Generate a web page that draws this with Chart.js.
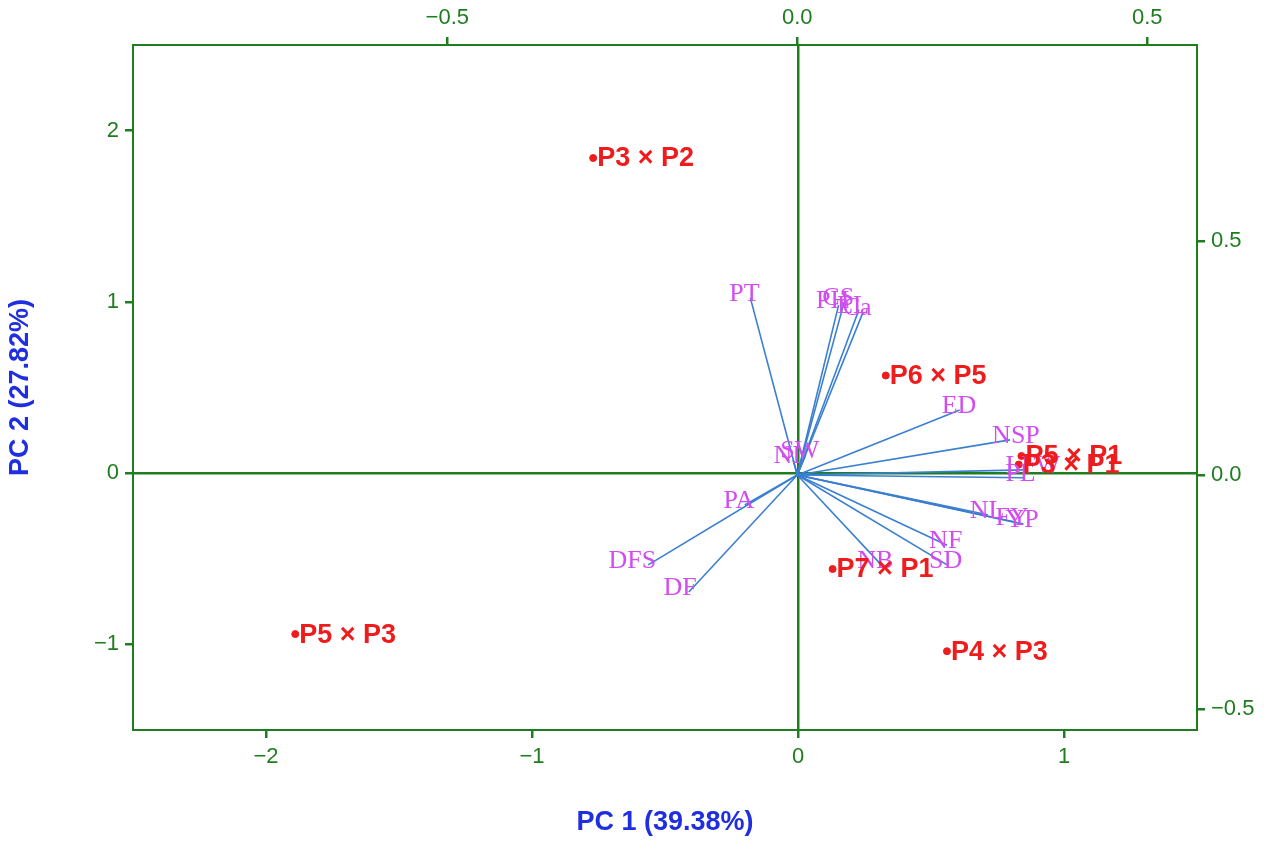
<!DOCTYPE html>
<html>
<head>
<meta charset="UTF-8">
<script src="https://cdn.jsdelivr.net/npm/chart.js"></script>
<style>body{margin:0;background:#fff}#wrap{width:1280px;height:843px}</style>
</head>
<body>
<div id="wrap"><canvas id="biplot"></canvas></div>
<script>
// scores (PC1, PC2)
const scoreNames = ['P3 × P2', 'P6 × P5', 'P5 × P1', 'P3 × P1', 'P7 × P1', 'P4 × P3', 'P5 × P3'];
const scoreX = [-0.77, 0.33, 0.84, 0.83, 0.13, 0.56, -1.89];
const scoreY = [1.84, 0.57, 0.10, 0.05, -0.56, -1.04, -0.94];

// loadings (secondary axes)
const loadNames = ['PT', 'CS', 'PH', 'EL', 'Ca', 'NI', 'SW', 'ED', 'NSP', 'LFW', 'PL', 'NL', 'FY', 'YP', 'NF', 'SD', 'NB', 'PA', 'DFS', 'DF'];
const loadX = [-0.067, 0.067, 0.059, 0.088, 0.094, -0.006, 0.012, 0.232, 0.304, 0.323, 0.323, 0.272, 0.309, 0.323, 0.214, 0.214, 0.120, -0.075, -0.213, -0.155];
const loadY = [0.378, 0.370, 0.363, 0.353, 0.348, 0.032, 0.043, 0.139, 0.075, 0.011, -0.006, -0.085, -0.100, -0.105, -0.150, -0.192, -0.192, -0.064, -0.192, -0.250];

const bottomTicks = [-2, -1, 0, 1];
const leftTicks = [-1, 0, 1, 2];
const topTicks = [-0.5, 0, 0.5];
const rightTicks = [-0.5, 0, 0.5];

const green = '#1e7d1e';
const fmt = v => (v < 0 ? '\u2212' : '') + Math.abs(v);
const fmt1 = v => (v < 0 ? '\u2212' : '') + Math.abs(v).toFixed(1);

const vectorSets = loadNames.map((n, i) => ({
  type: 'line', xAxisID: 'x2', yAxisID: 'y2',
  data: [{x: 0, y: 0}, {x: loadX[i], y: loadY[i]}],
  borderColor: '#3a7fd0', borderWidth: 1.6, pointRadius: 0, fill: false
}));

const labelPlugin = {
  id: 'labels',
  afterDatasetsDraw(chart) {
    const c = chart.ctx, s = chart.scales;
    c.save();
    c.font = '26px "Liberation Serif", "DejaVu Serif", serif';
    c.fillStyle = '#d24df0';
    c.textBaseline = 'middle';
    loadNames.forEach((n, i) => {
      const px = s.x2.getPixelForValue(loadX[i]), py = s.y2.getPixelForValue(loadY[i]);
      c.textAlign = loadX[i] < -0.1 ? 'right' : (loadX[i] > 0.15 ? 'left' : 'center');
      const dx = loadX[i] < -0.1 ? 8 : (loadX[i] > 0.15 ? -18 : -6);
      c.fillText(n, px + dx, py - 4);
    });
    c.font = 'bold 27px "Liberation Sans", Arial, sans-serif';
    c.fillStyle = '#ee1c1c';
    c.textAlign = 'left';
    scoreNames.forEach((n, i) => {
      const px = s.x.getPixelForValue(scoreX[i]), py = s.y.getPixelForValue(scoreY[i]);
      c.fillText(n, px + 4, py + 1);
    });
    c.restore();
  },
  beforeDatasetsDraw(chart) {
    const c = chart.ctx, a = chart.chartArea;
    c.save();
    c.strokeStyle = green; c.lineWidth = 2;
    c.strokeRect(a.left, a.top, a.right - a.left, a.bottom - a.top);
    c.restore();
  }
};

function axis(pos, min, max, ticks, fmtf, size, title) {
  return {
    type: 'linear', position: pos, min: min, max: max,
    afterBuildTicks: ax => { ax.ticks = ticks.map(v => ({value: v})); },
    afterFit: ax => { if (pos === 'left' || pos === 'right') ax.width = size; else ax.height = size; },
    grid: {
      drawOnChartArea: pos === 'left' || pos === 'bottom',
      color: ctx => ctx.tick && ctx.tick.value === 0 ? green : 'rgba(0,0,0,0)',
      lineWidth: 2.5, drawTicks: true, tickLength: 8, tickColor: green
    },
    border: {display: false},
    ticks: {
      color: green, font: {size: 22, family: '"Liberation Sans", Arial, sans-serif'},
      padding: 6, callback: v => fmtf(v)
    },
    title: title ? {display: true, text: title, color: '#1f2fe0',
      font: {size: 27, weight: 'bold', family: '"Liberation Sans", Arial, sans-serif'}, padding: {top: 4, bottom: 4}} : {display: false}
  };
}

new Chart(document.getElementById('biplot'), {
  type: 'scatter',
  data: {
    datasets: [{
      data: scoreX.map((x, i) => ({x: x, y: scoreY[i]})),
      backgroundColor: '#ee1c1c', borderColor: '#ee1c1c', pointRadius: 3.5
    }].concat(vectorSets)
  },
  options: {
    responsive: true, maintainAspectRatio: false, animation: false,
    layout: {padding: 0},
    plugins: {legend: {display: false}, tooltip: {enabled: false}},
    scales: {
      x: axis('bottom', -2.5, 1.5, bottomTicks, fmt, 113, 'PC 1 (39.38%)'),
      y: axis('left', -1.5, 2.5, leftTicks, fmt, 133, 'PC 2 (27.82%)'),
      x2: axis('top', -0.949, 0.571, topTicks, fmt1, 45, null),
      y2: axis('right', -0.545, 0.919, rightTicks, fmt1, 83, null)
    }
  },
  plugins: [labelPlugin]
});
</script>
</body>
</html>
